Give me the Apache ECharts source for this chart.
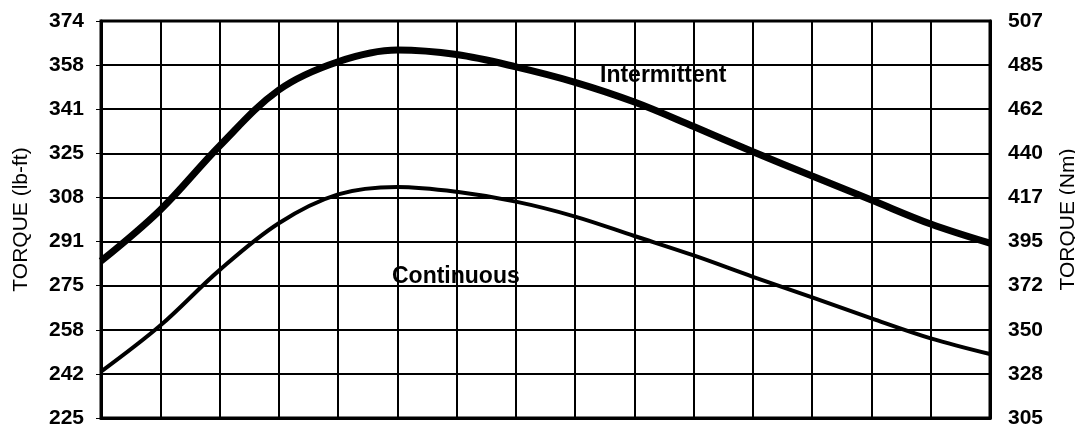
<!DOCTYPE html>
<html>
<head>
<meta charset="utf-8">
<script src="https://cdn.jsdelivr.net/npm/echarts@6/dist/echarts.min.js"></script>
<style>
html,body{margin:0;padding:0;background:#fff;}
#chart{width:1075px;height:430px;}
</style>
</head>
<body>
<div id="chart"></div>
<script>
// Speed steps along the horizontal axis (15 grid columns, no labels shown)
const steps = [0, 1, 2, 3, 4, 5, 6, 7, 8, 9, 10, 11, 12, 13, 14, 15];
// Torque in lb-ft
const intermittent = [283.9, 303.1, 327.1, 348.1, 358.7, 363.1, 361.4, 356.8, 351.0, 343.6, 334.4, 324.9, 315.8, 306.8, 297.8, 290.6];
const continuous   = [242.4, 259.7, 280.5, 298.1, 308.9, 311.7, 309.9, 306.2, 300.6, 293.3, 286.0, 278.0, 270.3, 262.4, 254.9, 249.0];
// Tick labels
const lbftLabels = ['225', '242', '258', '275', '291', '308', '325', '341', '358', '374'];
const nmLabels   = ['305', '328', '350', '372', '395', '417', '440', '462', '485', '507'];
const lbftMin = 225, lbftMax = 374;

const pairs = (xs, ys) => xs.map((x, i) => [x, ys[i]]);

const chart = echarts.init(document.getElementById('chart'), null, {renderer: 'canvas'});
const FONT = '"Liberation Sans", Arial, sans-serif';
const labelFont = {fontFamily: FONT, fontWeight: 'bold', fontSize: 21, color: '#000'};
chart.setOption({
  animation: false,
  backgroundColor: '#fff',
  grid: {left: 101, right: 85, top: 21, bottom: 12, containLabel: false, outerBoundsMode: 'none',
         show: true, borderColor: '#000', borderWidth: 3, backgroundColor: 'transparent'},
  xAxis: {
    type: 'value', min: 0, max: 15, interval: 1,
    axisLabel: {show: false}, axisTick: {show: false},
    axisLine: {show: true, lineStyle: {color: '#000', width: 3}},
    splitLine: {show: true, lineStyle: {color: '#000', width: 2}}
  },
  yAxis: [
    {
      type: 'value', position: 'left', min: 0, max: 9, interval: 1,
      name: 'TORQUE (lb-ft)', nameLocation: 'middle', nameGap: 69, nameRotate: 90,
      nameTextStyle: {fontFamily: FONT, fontSize: 21, color: '#000'},
      axisLabel: Object.assign({margin: 17, formatter: v => lbftLabels[Math.round(v)]}, labelFont),
      axisTick: {show: true, length: 5, lineStyle: {color: '#000', width: 1}},
      axisLine: {show: true, lineStyle: {color: '#000', width: 3}},
      splitLine: {show: true, lineStyle: {color: '#000', width: 2}}
    },
    {
      type: 'value', position: 'right', min: 0, max: 9, interval: 1,
      name: 'TORQUE (Nm)', nameLocation: 'middle', nameGap: 68, nameRotate: 90,
      nameTextStyle: {fontFamily: FONT, fontSize: 21, color: '#000'},
      axisLabel: Object.assign({margin: 18, formatter: v => nmLabels[Math.round(v)]}, labelFont),
      axisTick: {show: false},
      axisLine: {show: true, lineStyle: {color: '#000', width: 3}},
      splitLine: {show: false}
    },
    {
      type: 'value', position: 'left', min: lbftMin, max: lbftMax, show: false,
      splitLine: {show: false}
    }
  ],
  series: [
    {
      name: 'Intermittent', type: 'line', yAxisIndex: 2, smooth: 0.35, symbol: 'none',
      lineStyle: {color: '#000', width: 7}, data: pairs(steps, intermittent), z: 5
    },
    {
      name: 'Continuous', type: 'line', yAxisIndex: 2, smooth: 0.35, symbol: 'none',
      lineStyle: {color: '#000', width: 4}, data: pairs(steps, continuous), z: 5
    }
  ],
  graphic: [
    {type: 'text', left: 600, top: 64, z: 10, style: {text: 'Intermittent', font: 'bold 23px ' + FONT, fill: '#000'}},
    {type: 'text', left: 392, top: 265, z: 10, style: {text: 'Continuous', font: 'bold 23px ' + FONT, fill: '#000'}}
  ]
});
</script>
</body>
</html>
